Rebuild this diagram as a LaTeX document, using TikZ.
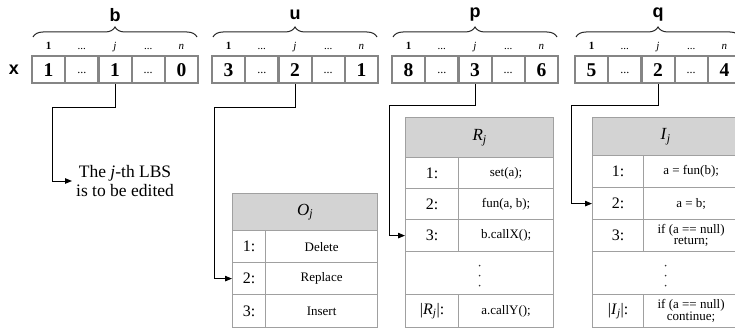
\documentclass[tikz,border=0pt]{standalone}
\usepackage{fontspec}
\setmainfont{Liberation Serif}
\newfontfamily\labelsans{Liberation Sans}
\usetikzlibrary{decorations.pathreplacing,arrows.meta}

\definecolor{cellgray}{HTML}{858585}
\definecolor{rulegray}{HTML}{A0A0A0}
\definecolor{headgray}{HTML}{D3D3D3}

\tikzset{
  x=1pt, y=-1pt,
  cellbox/.style={draw=cellgray, line width=2.2pt, fill=white,
    minimum width=33.2pt, minimum height=27pt, inner sep=0pt,
    text height=13pt, text depth=0pt,
    font=\fontsize{19.5}{19.5}\selectfont\bfseries},
  idx/.style={anchor=base, inner sep=0pt, font=\fontsize{11}{11}\selectfont},
  vecname/.style={inner sep=0pt, font=\labelsans\fontsize{18}{18}\selectfont\bfseries},
  brc/.style={decorate, decoration={brace, amplitude=10pt}, line width=1pt, draw=black!85},
  link/.style={draw=black, line width=1pt, -{Triangle[length=7pt,width=5.5pt]}},
  tcell/.style={draw=rulegray, line width=1.2pt, anchor=north west, inner sep=0pt},
  thead/.style={tcell, fill=headgray, font=\fontsize{17}{17}\selectfont},
  tnum/.style={tcell, font=\fontsize{16}{16}\selectfont},
  tbody/.style={tcell, align=center, font=\fontsize{13}{11.5}\selectfont},
  tdot/.style={fill=black!80},
}

\begin{document}
\begin{tikzpicture}
\useasboundingbox (0,0) rectangle (735,329);

% the four vectors b, u, p, q with their braces and index labels
\foreach \nm/\L/\va/\vb/\vc in {b/32/1/1/0, u/212/3/2/1, p/392/8/3/6, q/575/5/2/4}{
  \node[cellbox] (\nm1) at (\L+16.6,69.5) {\va};
  \node[cellbox] (\nm2) at (\L+49.8,69.5) {\raisebox{3pt}{\mdseries\fontsize{12}{12}\selectfont...}};
  \node[cellbox] (\nm3) at (\L+83,69.5) {\vb};
  \node[cellbox] (\nm4) at (\L+116.2,69.5) {\raisebox{3pt}{\mdseries\fontsize{12}{12}\selectfont...}};
  \node[cellbox] (\nm5) at (\L+149.4,69.5) {\vc};
  \node[idx] (\nm i1) at (\L+16.6,49) {\textbf{1}};
  \node[idx] (\nm i2) at (\L+49.8,49) {...};
  \node[idx] (\nm i3) at (\L+83,49) {\textit{j}};
  \node[idx] (\nm i4) at (\L+116.2,49) {...};
  \node[idx] (\nm i5) at (\L+149.4,49) {\textit{n}};
  \draw[brc] (\L+1,37) -- (\L+165,37);
  \node[vecname] (\nm name) at (\L+83,15) {\nm};
}
\node[vecname] (xname) at (14,70) {x};

% note for the vector b
\node[anchor=west, align=center, inner sep=4pt,
      font=\fontsize{17.5}{19.5}\selectfont] (lbs) at (72,181)
      {The \textit{j}-th LBS\\is to be edited};

% table O_j
\node[thead, minimum width=145pt, minimum height=37pt] (Oh) at (232,193)
  {\textit{O}\textsubscript{\textit{j}}};
\node[tnum, minimum width=33pt, minimum height=32pt] (O1n) at (232,230) {1:};
\node[tbody, minimum width=112pt, minimum height=32pt] (O1c) at (265,230) {Delete};
\node[tnum, minimum width=33pt, minimum height=32pt] (O2n) at (232,262) {2:};
\node[tbody, minimum width=112pt, minimum height=32pt] (O2c) at (265,262) {Replace};
\node[tnum, minimum width=33pt, minimum height=33pt] (O3n) at (232,294) {3:};
\node[tbody, minimum width=112pt, minimum height=33pt] (O3c) at (265,294) {Insert};

% table R_j
\node[thead, minimum width=148pt, minimum height=40pt] (Rh) at (405,117)
  {\textit{R}\textsubscript{\textit{j}}};
\node[tnum, minimum width=53pt, minimum height=31pt] (R1n) at (405,157) {1:};
\node[tbody, minimum width=95pt, minimum height=31pt] (R1c) at (458,157) {set(a);};
\node[tnum, minimum width=53pt, minimum height=31pt] (R2n) at (405,188) {2:};
\node[tbody, minimum width=95pt, minimum height=31pt] (R2c) at (458,188) {fun(a, b);};
\node[tnum, minimum width=53pt, minimum height=32pt] (R3n) at (405,219) {3:};
\node[tbody, minimum width=95pt, minimum height=32pt] (R3c) at (458,219) {b.callX();};
\node[tcell, minimum width=148pt, minimum height=43pt] (Rd) at (405,251) {};
\node[tnum, minimum width=53pt, minimum height=33pt] (R4n) at (405,294)
  {|\textit{R}\textsubscript{\textit{j}}|:};
\node[tbody, minimum width=95pt, minimum height=33pt] (R4c) at (458,294) {a.callY();};
\foreach \dy in {-7.5,2.5,12.5} \fill[tdot] ([yshift=-\dy pt]Rd.center) circle (0.9pt);

% table I_j
\node[thead, minimum width=146pt, minimum height=38pt] (Ih) at (592,117)
  {\textit{I}\textsubscript{\textit{j}}};
\node[tnum, minimum width=51pt, minimum height=32pt] (I1n) at (592,155) {1:};
\node[tbody, minimum width=95pt, minimum height=32pt] (I1c) at (643,155) {a = fun(b);};
\node[tnum, minimum width=51pt, minimum height=32pt] (I2n) at (592,187) {2:};
\node[tbody, minimum width=95pt, minimum height=32pt] (I2c) at (643,187) {a = b;};
\node[tnum, minimum width=51pt, minimum height=32pt] (I3n) at (592,219) {3:};
\node[tbody, minimum width=95pt, minimum height=32pt] (I3c) at (643,219) {if (a == null)\\return;};
\node[tcell, minimum width=146pt, minimum height=43pt] (Id) at (592,251) {};
\node[tnum, minimum width=51pt, minimum height=33pt] (I4n) at (592,294)
  {|\textit{I}\textsubscript{\textit{j}}|:};
\node[tbody, minimum width=95pt, minimum height=33pt] (I4c) at (643,294) {if (a == null)\\continue;};
\foreach \dy in {-7.5,2.5,12.5} \fill[tdot] ([yshift=-\dy pt]Id.center) circle (0.9pt);

% links from the j-th entries
\draw[link] (b3.south) |- (52,107) |- (lbs.west);
\draw[link] (u3.south) |- (214,107) |- (O2n.west);
\draw[link] (p3.south) |- (389,105) |- (R3n.west);
\draw[link] (q3.south) |- (571,105) |- (I2n.west);
\end{tikzpicture}
\end{document}
